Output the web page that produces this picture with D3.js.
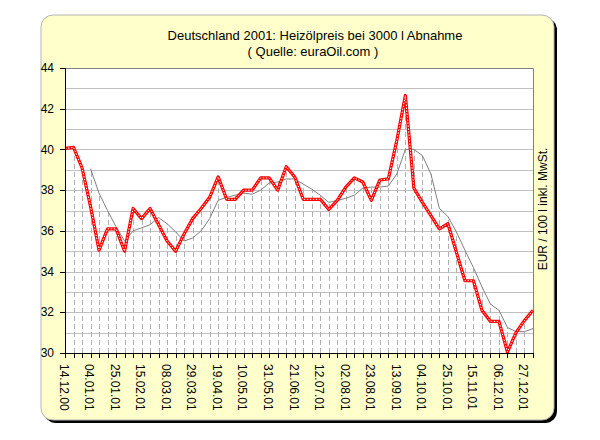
<!DOCTYPE html>
<html>
<head>
<meta charset="utf-8">
<script src="https://cdn.jsdelivr.net/npm/d3@7/dist/d3.min.js"></script>
<style>
body{margin:0;background:#fff}
svg{display:block}
text{font-family:Arial,"Liberation Sans",sans-serif;font-size:12px;fill:#000}
</style>
</head>
<body>
<svg width="600" height="440"></svg>
<script>
// Heizölpreis wöchentlich, 14.12.00 .. 03.01.02 (56 Wochen)
var preis=[40.05,40.1,39.1,37.2,35.05,36.1,36.1,35.0,37.1,36.6,
           37.1,36.3,35.5,35.0,35.85,36.6,37.1,37.65,38.65,37.55,
           37.55,38.0,38.0,38.6,38.6,38.0,39.15,38.65,37.55,37.55,
           37.55,37.05,37.5,38.15,38.6,38.4,37.5,38.5,38.55,40.45,
           42.65,38.1,37.4,36.75,36.1,36.35,34.95,33.55,33.55,32.1,
           31.55,31.55,30.05,31.0,31.6,32.1];
// gleitender Durchschnitt (erst ab Woche 3)
var mittel=[null,null,null,39.05,37.85,37.0,36.2,35.5,36.0,36.15,
            36.3,36.65,36.35,35.95,35.5,35.65,36.0,36.6,37.5,37.65,
            37.75,37.85,37.8,38.0,38.35,38.4,38.55,38.55,38.3,38.05,
            37.75,37.4,37.5,37.6,37.75,38.1,38.15,38.15,38.2,38.8,
            40.0,40.0,39.7,38.8,37.1,36.7,35.95,35.05,34.2,33.25,
            32.4,32.1,31.25,31.05,31.05,31.2];
// Beschriftung jede 3. Woche
var xLabels=["14.12.00","04.01.01","25.01.01","15.02.01","08.03.01","29.03.01",
             "19.04.01","10.05.01","31.05.01","21.06.01","12.07.01","02.08.01",
             "23.08.01","13.09.01","04.10.01","25.10.01","15.11.01","06.12.01","27.12.01"];
var yTicks=[30,32,34,36,38,40,42,44];
var titel1="Deutschland 2001: Heizölpreis bei 3000 l Abnahme";
var titel2="( Quelle: euraOil.com )";
var yTitel="EUR / 100 l inkl. MwSt.";

var svg=d3.select("svg");
var pLeft=65,pRight=533,pTop=68,pBottom=353;

var x=d3.scaleLinear().domain([0,preis.length-1]).range([pLeft,pRight]);
var y=d3.scaleLinear().domain([30,44]).range([pBottom,pTop]);

// Rahmen mit Schatten
svg.append("rect").attr("x",44).attr("y",18).attr("width",513).attr("height",405)
   .attr("rx",12).attr("fill","#000");
svg.append("rect").attr("x",41).attr("y",15).attr("width",513).attr("height",405)
   .attr("rx",12).attr("fill","#ffffcc").attr("stroke","#b4b4b4").attr("stroke-width",1);

// Titel
svg.append("text").attr("x",315).attr("y",40).attr("text-anchor","middle")
   .style("font-size","13px").text(titel1);
svg.append("text").attr("x",313).attr("y",56).attr("text-anchor","middle")
   .style("font-size","13px").text(titel2);

// Zeichenfläche
svg.append("rect").attr("x",pLeft).attr("y",pTop).attr("width",pRight-pLeft).attr("height",pBottom-pTop)
   .attr("fill","#fff");

// horizontale Gitterlinien (jede Einheit)
svg.append("g").selectAll("line").data(d3.range(31,44)).enter().append("line")
   .attr("x1",pLeft).attr("x2",pRight)
   .attr("y1",function(d){return Math.round(y(d))+0.5;})
   .attr("y2",function(d){return Math.round(y(d))+0.5;})
   .attr("stroke","#c0c0c0").attr("stroke-width",1);

// Lotlinien vom höchsten Wert bis zur Achse
svg.append("g").selectAll("line").data(d3.range(1,preis.length)).enter().append("line")
   .attr("x1",function(i){return Math.round(x(i))+0.5;})
   .attr("x2",function(i){return Math.round(x(i))+0.5;})
   .attr("y1",pBottom)
   .attr("y2",function(i){
       var m=mittel[i]==null?preis[i]:Math.max(preis[i],mittel[i]);
       return y(m);
   })
   .attr("stroke","#b0b0b0").attr("stroke-width",1).attr("stroke-dasharray","5,3");

// Rand oben/rechts
svg.append("path").attr("d","M"+pLeft+","+(pTop+0.5)+"H"+(pRight+0.5)+"V"+pBottom)
   .attr("fill","none").attr("stroke","#808080").attr("stroke-width",1);

// Durchschnitt
var lineM=d3.line().defined(function(d){return d!=null;})
   .x(function(d,i){return x(i);}).y(function(d){return y(d);});
svg.append("path").datum(mittel).attr("d",lineM)
   .attr("fill","none").attr("stroke","#808080").attr("stroke-width",1);

// Preis (rote "Kettenlinie")
var lineP=d3.line().x(function(d,i){return x(i);}).y(function(d){return y(d);});
svg.append("path").datum(preis).attr("d",lineP)
   .attr("fill","none").attr("stroke","#ff0000").attr("stroke-width",3.2)
   .attr("stroke-linejoin","round");
svg.append("path").datum(preis).attr("d",lineP)
   .attr("fill","none").attr("stroke","#ffffff").attr("stroke-width",1)
   .attr("stroke-dasharray","1.5,1.5").attr("stroke-linejoin","round");

// Y-Achse
svg.append("line").attr("x1",pLeft+0.5).attr("x2",pLeft+0.5).attr("y1",pTop).attr("y2",pBottom+0.5)
   .attr("stroke","#000");
var yg=svg.append("g");
yg.selectAll("line").data(yTicks).enter().append("line")
   .attr("x1",pLeft-5).attr("x2",pLeft)
   .attr("y1",function(d){return Math.round(y(d))+0.5;})
   .attr("y2",function(d){return Math.round(y(d))+0.5;})
   .attr("stroke","#000");
yg.selectAll("text").data(yTicks).enter().append("text")
   .attr("x",54).attr("y",function(d){return y(d);}).attr("dy","0.35em")
   .attr("text-anchor","end").text(function(d){return d;});

// X-Achse
svg.append("line").attr("x1",pLeft).attr("x2",pRight+1).attr("y1",pBottom+0.5).attr("y2",pBottom+0.5)
   .attr("stroke","#000");
svg.append("g").selectAll("line").data(d3.range(preis.length)).enter().append("line")
   .attr("x1",function(i){return Math.round(x(i))+0.5;})
   .attr("x2",function(i){return Math.round(x(i))+0.5;})
   .attr("y1",pBottom).attr("y2",pBottom+5)
   .attr("stroke","#000");
svg.append("g").selectAll("text").data(xLabels).enter().append("text")
   .attr("transform",function(d,k){return "translate("+(x(k*3)-1)+",364) rotate(90)";})
   .attr("dy","0.35em").text(function(d){return d;});

// Y-Titel rechts
svg.append("text").attr("transform","translate(547,209) rotate(-90)")
   .attr("text-anchor","middle").text(yTitel);
</script>
</body>
</html>
